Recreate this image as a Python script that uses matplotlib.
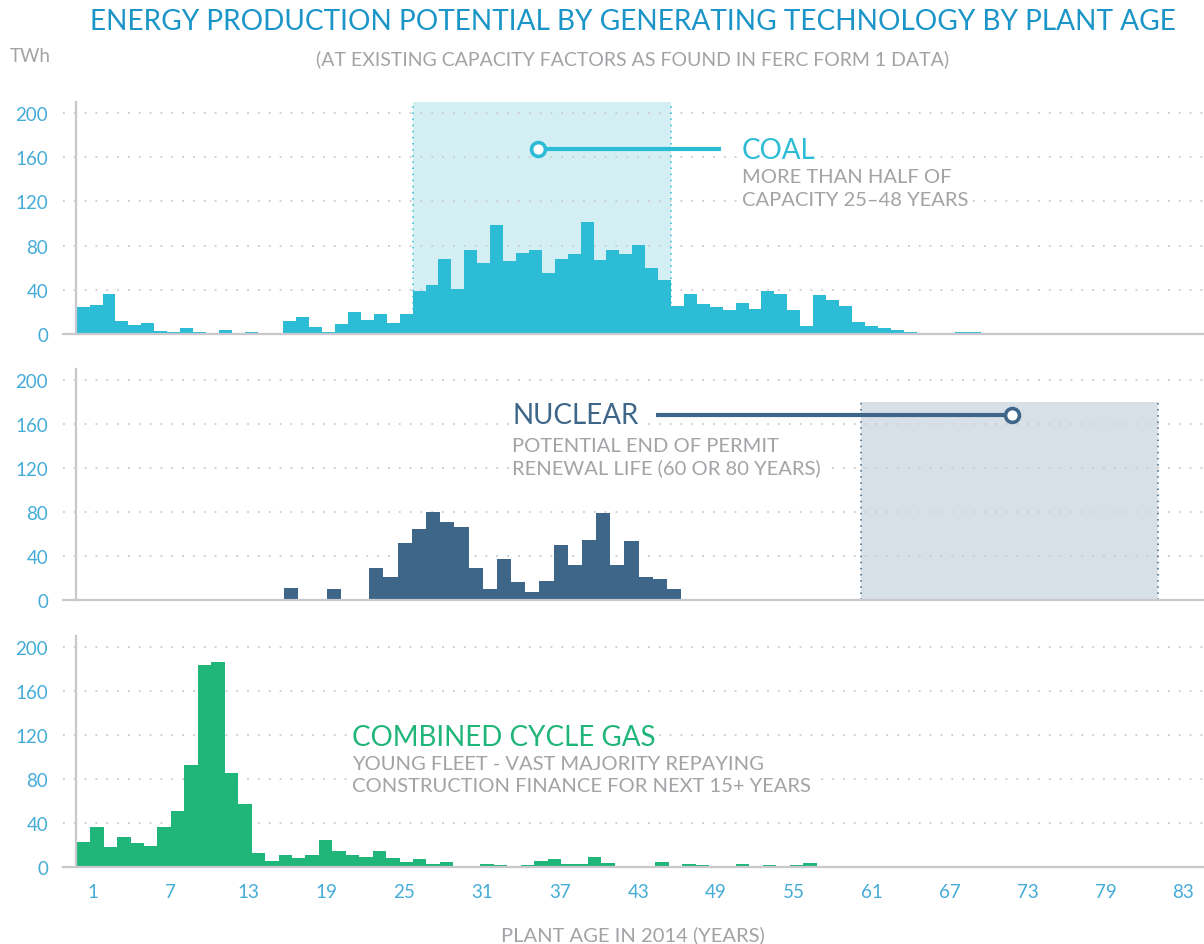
import matplotlib.pyplot as plt

plt.rcParams['font.family'] = ['Lato', 'DejaVu Sans']

# energy production potential (TWh) by plant age, one bar per year of age
coal_twh = [24, 26, 36, 11.5, 8, 10, 3, 2, 5, 2,
            0.5, 4, 1.2, 2, 0.5, 1.2, 11.5, 15.7, 6.6, 1.8,
            9.4, 20.2, 13, 18.4, 10, 18.4, 39.2, 44.3, 68, 40.7,
            75.7, 64.6, 98.6, 65.8, 73.3, 75.7, 54.9, 68.2, 72.7, 101.4,
            67, 75.7, 72.4, 80.5, 59.7, 49.2, 25.6, 36.2, 27.1, 24.1,
            21.4, 28.4, 22.9, 38.6, 36.2, 22, 7.5, 35.6, 30.5, 25.6,
            11.2, 7.5, 5.4, 3.9, 1.5, 0, 0, 0, 1.8, 1.8]

nuclear_twh = [0, 0, 0, 0, 0, 0, 0, 0, 0, 0,
               0, 0, 0, 0, 0, 0, 10.3, 0, 0, 9.7,
               0, 0, 29, 20.5, 51.6, 64.3, 80, 70.9, 66, 28.7,
               10, 36.8, 16, 7.2, 17.2, 49.2, 31.4, 54.3, 78.7, 31.4,
               53, 20.5, 18.4, 10]

gas_twh = [22.3, 35.9, 17.8, 26.8, 21.1, 18.7, 35.9, 51, 92.9, 183.7,
           185.8, 85.1, 56.7, 12.7, 5.4, 10.9, 7.8, 10.3, 24.1, 14.5,
           10.3, 9, 14.5, 7.8, 3.9, 7.2, 2.4, 3.9, 0.3, 0,
           2.7, 1.5, 0, 1.5, 4.8, 6.9, 2.1, 2.1, 8.7, 3.3,
           0.6, 0, 0.8, 4.2, 0, 2.4, 1.8, 0.6, 0, 2.4,
           0.6, 1.5, 0, 1.5, 3.3, 0.6, 0, 0, 0.6, 0.6,
           0, 0.6, 0.6]

y_ticks = [0, 40, 80, 120, 160, 200]
age_labels = ["1", "7", "13", "19", "25", "31", "37", "43", "49",
              "55", "61", "67", "73", "79", "83"]

coal_span = (26, 46)
nuclear_span = (56.7, 77.6)

COAL = "#2cbcd6"
NUCLEAR = "#3d6689"
GAS = "#21b679"
GREY = "#a3a3a7"
TICK = "#45acd8"
AXIS = "#c8c8cd"

W, H = 1204, 945
fig = plt.figure(figsize=(W / 100, H / 100), dpi=100)


def px_axes(left, top, right, bottom):
    return fig.add_axes([left / W, 1 - bottom / H, (right - left) / W, (bottom - top) / H])


def fx(x):
    return x / W


def fy(y):
    return 1 - y / H


ax1 = px_axes(63, 102.7, 1204, 335)
ax2 = px_axes(63, 370, 1204, 600.5)
ax3 = px_axes(63, 636.7, 1204, 867.7)

panels = [
    (ax1, coal_twh, COAL, (-1.06, 87.25)),
    (ax2, nuclear_twh, NUCLEAR, (0.40, 80.87)),
    (ax3, gas_twh, GAS, (-1.02, 83.8)),
]

spine_x = (76 - 63) / (1204 - 63)
for ax, vals, color, xlim in panels:
    ax.bar(range(len(vals)), vals, width=1, align='edge', color=color,
           linewidth=0, zorder=2)
    ax.set_xlim(xlim)
    ax.set_ylim(0, 210)
    for y in y_ticks[1:]:
        ax.axhline(y, color="#cbcbcf", lw=1.3, ls=(0, (1, 5)), zorder=1)
    for s in ['top', 'right']:
        ax.spines[s].set_visible(False)
    ax.spines['bottom'].set_color(AXIS)
    ax.spines['bottom'].set_linewidth(1.6)
    ax.spines['left'].set_color(AXIS)
    ax.spines['left'].set_linewidth(1.6)
    ax.spines['left'].set_position(('axes', spine_x))
    ax.spines['bottom'].set_zorder(3)
    ax.set_xticks([])
    ax.set_yticks(y_ticks)
    ax.tick_params(axis='y', length=0, pad=20, labelcolor=TICK, labelsize=13.5)
    ax.set_facecolor('none')

# shaded age bands
ax1.axvspan(*coal_span, ymin=0, ymax=1, color="#d4eff4", lw=0, zorder=0)
for x in coal_span:
    ax1.axvline(x, color=COAL, lw=1.1, ls=(0, (1, 3)), zorder=1)
ax2.axvspan(*nuclear_span, ymin=0, ymax=180 / 210, color="#d8e0e7", lw=0, zorder=0)
for x in nuclear_span:
    ax2.axvline(x, ymax=180 / 210, color=NUCLEAR, lw=1.1, ls=(0, (1, 3)), zorder=1)

# x tick labels on their own scale
axt = ax3.twiny()
axt.set_xlim(-1.311, 86.59)
axt.xaxis.set_ticks_position('bottom')
axt.set_xticks([1 + 6 * k for k in range(len(age_labels))])
axt.set_xticklabels(age_labels)
axt.tick_params(axis='x', length=0, pad=12, labelcolor=TICK, labelsize=13.5)
for s in axt.spines.values():
    s.set_visible(False)

box = dict(facecolor='white', edgecolor='none', pad=2)
HEAD = 20
SUB = 14.5

# coal annotation
ax1.plot([35.7, 49.9], [167.4, 167.4], color=COAL, lw=3, zorder=4,
         solid_capstyle='butt')
ax1.plot([35.7], [167.4], 'o', ms=10, mfc='white', mec=COAL, mew=2.6, zorder=5)
ax1.text(51.5, 166, "COAL", color=COAL, fontsize=HEAD, va='center', ha='left',
         zorder=4, bbox=box)
ax1.text(51.5, 142, "MORE THAN HALF OF", color=GREY, fontsize=SUB, va='center',
         ha='left', zorder=4, bbox=box)
ax1.text(51.5, 122, "CAPACITY 25\u201348 YEARS", color=GREY, fontsize=SUB,
         va='center', ha='left', zorder=4, bbox=box)

# nuclear annotation
ax2.plot([42.2, 67.3], [168, 168], color=NUCLEAR, lw=3, zorder=4,
         solid_capstyle='butt')
ax2.plot([67.3], [168], 'o', ms=10, mfc='white', mec=NUCLEAR, mew=2.6, zorder=5)
ax2.text(32.1, 168, "NUCLEAR", color=NUCLEAR, fontsize=HEAD, va='center',
         ha='left', zorder=4, bbox=box)
ax2.text(32.1, 140.7, "POTENTIAL END OF PERMIT", color=GREY, fontsize=SUB,
         va='center', ha='left', zorder=4, bbox=box)
ax2.text(32.1, 120.7, "RENEWAL LIFE (60 OR 80 YEARS)", color=GREY, fontsize=SUB,
         va='center', ha='left', zorder=4, bbox=box)

# gas annotation
ax3.text(20.5, 118, "COMBINED CYCLE GAS", color=GAS, fontsize=HEAD, va='center',
         ha='left', zorder=4, bbox=box)
ax3.text(20.5, 93.5, "YOUNG FLEET - VAST MAJORITY REPAYING", color=GREY,
         fontsize=SUB, va='center', ha='left', zorder=4, bbox=box)
ax3.text(20.5, 73.5, "CONSTRUCTION FINANCE FOR NEXT 15+ YEARS", color=GREY,
         fontsize=SUB, va='center', ha='left', zorder=4, bbox=box)

# titles
fig.text(fx(633), fy(22), "ENERGY PRODUCTION POTENTIAL BY GENERATING TECHNOLOGY BY PLANT AGE",
         color="#1b95c8", fontsize=20.2, ha='center', va='center')
fig.text(fx(633), fy(59), "(AT EXISTING CAPACITY FACTORS AS FOUND IN FERC FORM 1 DATA)",
         color=GREY, fontsize=14, ha='center', va='center')
fig.text(fx(10), fy(57), "TWh", color=GREY, fontsize=13.5, ha='left', va='center')
fig.text(fx(633), fy(935), "PLANT AGE IN 2014 (YEARS)", color=GREY, fontsize=14.5,
         ha='center', va='center')

fig.savefig("out.png", dpi=100)
